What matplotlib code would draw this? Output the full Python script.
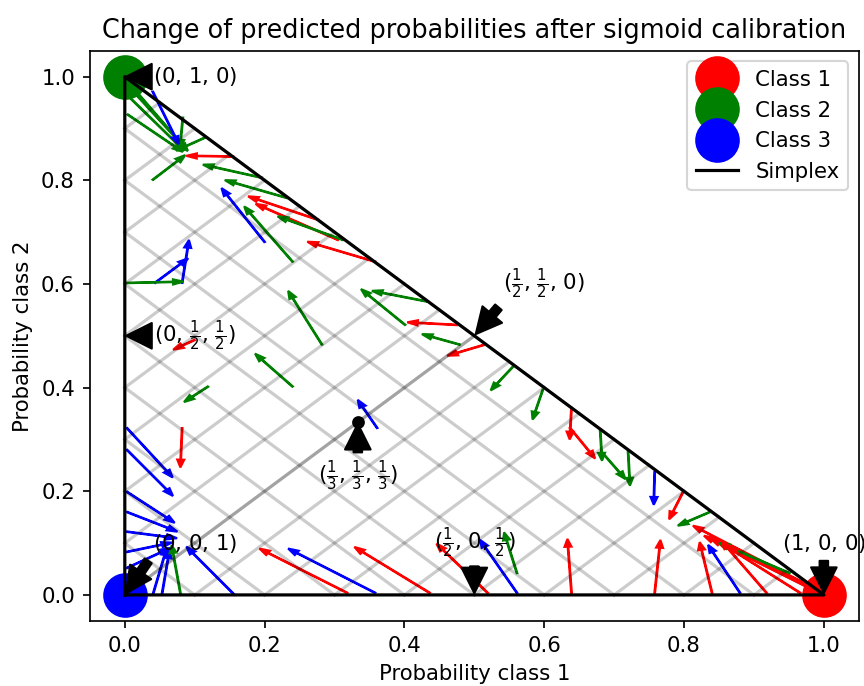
import matplotlib
matplotlib.use("Agg")
import matplotlib.pyplot as plt

# uncalibrated (start) and calibrated (end) probabilities for class 1 and class 2,
# read off the picture; cls is the true class of each test sample
p1_start = [0.003, 0.003, 0.004, 0.014, 0.083, 0.114, 0.040, 0.040, 0.155, 0.196,
            0.232, 0.276, 0.305, 0.312, 0.358, 0.200, 0.240, 0.043, 0.082, 0.003,
            0.282, 0.100, 0.240, 0.119, 0.082, 0.003, 0.003, 0.003, 0.003, 0.003,
            0.003, 0.003, 0.040, 0.053, 0.080, 0.157, 0.318, 0.358, 0.436, 0.519,
            0.561, 0.561, 0.361, 0.433, 0.401, 0.475, 0.479, 0.515, 0.555, 0.598,
            0.639, 0.637, 0.680, 0.682, 0.720, 0.758, 0.798, 0.837, 0.639, 0.758,
            0.999, 0.999, 0.994, 0.984, 0.951, 0.840, 0.880, 0.918, 0.966]
p2_start = [0.985, 0.965, 0.927, 0.975, 0.921, 0.882, 0.801, 0.971, 0.846, 0.805,
            0.766, 0.724, 0.685, 0.685, 0.643, 0.681, 0.643, 0.602, 0.602, 0.602,
            0.483, 0.492, 0.402, 0.402, 0.322, 0.322, 0.280, 0.199, 0.160, 0.122,
            0.083, 0.052, 0.000, 0.000, 0.000, 0.000, 0.004, 0.004, 0.004, 0.004,
            0.004, 0.042, 0.322, 0.566, 0.521, 0.521, 0.483, 0.483, 0.440, 0.396,
            0.361, 0.322, 0.319, 0.276, 0.276, 0.237, 0.197, 0.160, 0.004, 0.004,
            0.004, 0.004, 0.006, 0.010, 0.042, 0.004, 0.004, 0.004, 0.004]
p1_end = [0.079, 0.076, 0.072, 0.082, 0.080, 0.086, 0.076, 0.072, 0.103, 0.126,
          0.157, 0.190, 0.200, 0.232, 0.275, 0.146, 0.179, 0.080, 0.090, 0.069,
          0.240, 0.082, 0.196, 0.096, 0.080, 0.060, 0.060, 0.060, 0.062, 0.060,
          0.053, 0.053, 0.057, 0.062, 0.069, 0.097, 0.205, 0.246, 0.340, 0.455,
          0.515, 0.546, 0.340, 0.368, 0.348, 0.419, 0.439, 0.475, 0.532, 0.587,
          0.637, 0.665, 0.682, 0.708, 0.722, 0.757, 0.784, 0.804, 0.634, 0.765,
          0.825, 0.841, 0.851, 0.861, 0.863, 0.825, 0.841, 0.862, 0.873]
p2_end = [0.873, 0.869, 0.865, 0.869, 0.878, 0.865, 0.838, 0.884, 0.847, 0.826,
          0.795, 0.763, 0.747, 0.724, 0.676, 0.772, 0.737, 0.639, 0.670, 0.604,
          0.573, 0.481, 0.454, 0.382, 0.261, 0.239, 0.203, 0.149, 0.129, 0.112,
          0.097, 0.083, 0.077, 0.071, 0.081, 0.081, 0.081, 0.081, 0.083, 0.087,
          0.093, 0.106, 0.363, 0.583, 0.579, 0.525, 0.498, 0.467, 0.407, 0.353,
          0.315, 0.276, 0.274, 0.236, 0.226, 0.189, 0.160, 0.141, 0.093, 0.091,
          0.125, 0.106, 0.100, 0.093, 0.093, 0.087, 0.083, 0.091, 0.083]
cls = [1, 1, 1, 1, 1, 1, 1, 2, 0, 1,
       1, 0, 0, 1, 0, 2, 1, 2, 2, 1,
       1, 0, 1, 1, 0, 2, 2, 2, 2, 2,
       2, 2, 2, 2, 1, 2, 0, 2, 0, 0,
       2, 1, 2, 1, 1, 0, 1, 0, 1, 1,
       0, 0, 1, 1, 1, 2, 0, 1, 0, 0,
       0, 0, 0, 0, 1, 0, 2, 0, 0]

colors = ["r", "g", "b"]
grid_steps = [0.0, 0.1, 0.2, 0.3, 0.4, 0.5, 0.6, 0.7, 0.8, 0.9, 1.0]

fig = plt.figure(figsize=(864 / 153, 686 / 153), dpi=153)
fig.subplots_adjust(left=0.104, right=0.994, bottom=0.095, top=0.926)

# arrows from uncalibrated to calibrated probabilities
for i in range(len(cls)):
    plt.arrow(p1_start[i], p2_start[i],
              p1_end[i] - p1_start[i], p2_end[i] - p2_start[i],
              color=colors[cls[i]], head_width=1e-2)

# perfect predictions at each vertex
plt.plot([1.0], [0.0], "ro", ms=20, label="Class 1")
plt.plot([0.0], [1.0], "go", ms=20, label="Class 2")
plt.plot([0.0], [0.0], "bo", ms=20, label="Class 3")

# boundaries of the simplex
plt.plot([0.0, 1.0, 0.0, 0.0], [0.0, 0.0, 1.0, 0.0], "k", label="Simplex")

arrow_kw = dict(facecolor="black", shrink=0.05)
plt.annotate(r"($\frac{1}{3}$, $\frac{1}{3}$, $\frac{1}{3}$)", xy=(1.0 / 3, 1.0 / 3),
             xytext=(1.0 / 3, 0.23), xycoords="data", arrowprops=arrow_kw,
             horizontalalignment="center", verticalalignment="center")
plt.plot([1.0 / 3], [1.0 / 3], "ko", ms=5)
plt.annotate(r"($\frac{1}{2}$, $0$, $\frac{1}{2}$)", xy=(0.5, 0.0), xytext=(0.5, 0.1),
             xycoords="data", arrowprops=arrow_kw,
             horizontalalignment="center", verticalalignment="center")
plt.annotate(r"($0$, $\frac{1}{2}$, $\frac{1}{2}$)", xy=(0.0, 0.5), xytext=(0.1, 0.5),
             xycoords="data", arrowprops=arrow_kw,
             horizontalalignment="center", verticalalignment="center")
plt.annotate(r"($\frac{1}{2}$, $\frac{1}{2}$, $0$)", xy=(0.5, 0.5), xytext=(0.6, 0.6),
             xycoords="data", arrowprops=arrow_kw,
             horizontalalignment="center", verticalalignment="center")
plt.annotate(r"($0$, $0$, $1$)", xy=(0, 0), xytext=(0.1, 0.1),
             xycoords="data", arrowprops=arrow_kw,
             horizontalalignment="center", verticalalignment="center")
plt.annotate(r"($1$, $0$, $0$)", xy=(1, 0), xytext=(1, 0.1),
             xycoords="data", arrowprops=arrow_kw,
             horizontalalignment="center", verticalalignment="center")
plt.annotate(r"($0$, $1$, $0$)", xy=(0, 1), xytext=(0.1, 1),
             xycoords="data", arrowprops=arrow_kw,
             horizontalalignment="center", verticalalignment="center")

# grid inside the simplex
plt.grid(False)
for x in grid_steps:
    plt.plot([0, x], [x, 0], "k", alpha=0.2)
    plt.plot([0, 0 + (1 - x) / 2], [x, x + (1 - x) / 2], "k", alpha=0.2)
    plt.plot([x, x + (1 - x) / 2], [0, 0 + (1 - x) / 2], "k", alpha=0.2)

plt.title("Change of predicted probabilities after sigmoid calibration")
plt.xlabel("Probability class 1")
plt.ylabel("Probability class 2")
plt.xlim(-0.05, 1.05)
plt.ylim(-0.05, 1.05)
plt.legend(loc="best")

plt.savefig("out.png")
